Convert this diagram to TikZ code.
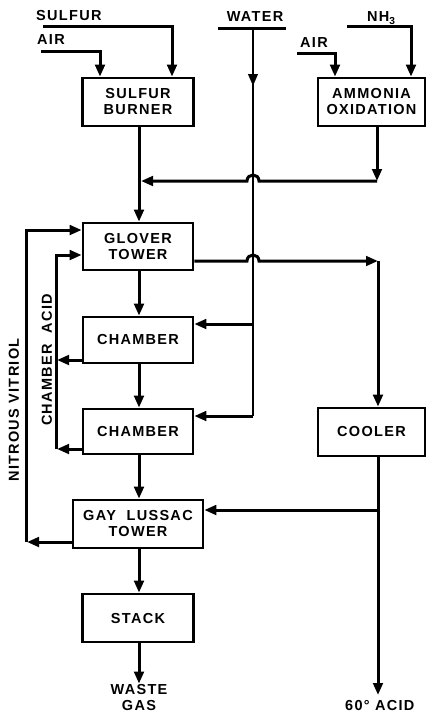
\documentclass[tikz,border=0pt]{standalone}
\usepackage{fontspec}
\setmainfont{Liberation Sans}[LetterSpace=9]
\usetikzlibrary{arrows.meta,calc}
\begin{document}
\begin{tikzpicture}[x=1pt,y=-1pt,
  txt/.style={font=\bfseries\fontsize{14.5}{16}\selectfont},
  box/.style={txt, draw, line width=2.6pt, minimum height=48pt, minimum width=111pt, align=center, inner sep=0pt},
  lbl/.style={txt, inner sep=0pt, align=center},
  flow/.style={line width=3pt},
  arr/.style={flow, -{Triangle[length=12pt,width=9.5pt]}},
]
\useasboundingbox (0,0) rectangle (427,713);

% boxes
\node[box] (burner) at (138,102) {SULFUR\\BURNER};
\node[box, minimum width=107pt] (amm) at (371.5,102) {AMMONIA\\OXIDATION};
\node[box, minimum height=47pt, minimum width=110pt] (glover) at (138,246.5) {GLOVER\\TOWER};
\node[box, minimum height=46pt, minimum width=110pt] (ch1) at (138,340) {CHAMBER};
\node[box, minimum height=45pt, minimum width=110pt] (ch2) at (138,431.5) {CHAMBER};
\node[box, minimum width=130pt] (gl) at (138,524) {GAY\ \ LUSSAC\\TOWER};
\node[box] (stack) at (138,618) {STACK};
\node[box, minimum width=107pt] (cooler) at (371.5,432) {COOLER};

% labels
\node[lbl, anchor=west] (sulfurlbl) at (36,16) {SULFUR};
\node[lbl, anchor=west] (air1) at (37,40) {AIR};
\node[lbl] (water) at (255,17) {WATER};
\node[lbl, anchor=west] (nh3) at (367,18) {NH\textsubscript{3}};
\node[lbl, anchor=west] (air2) at (300,43) {AIR};
\node[lbl] (waste) at (139,697) {WASTE\\GAS};
\node[lbl, anchor=west] (acid) at (345,705) {60° ACID};
\node[lbl, rotate=90] (calbl) at (47,360) {CHAMBER\ \ ACID};
\node[lbl, rotate=90] (nvlbl) at (14,410) {NITROUS VITRIOL};

% inputs
\coordinate (s0) at (43,26); \coordinate (s1) at (172,26);
\draw[arr] (s0) -- (s1) -- (burner.north -| s1);
\coordinate (a0) at (41,51); \coordinate (a1) at (100,51);
\draw[arr] (a0) -- (a1) -- (burner.north -| a1);
\coordinate (n0) at (347,26); \coordinate (n1) at (411,26);
\draw[arr] (n0) -- (n1) -- (amm.north -| n1);
\coordinate (b0) at (297,53); \coordinate (b1) at (335,53);
\draw[arr] (b0) -- (b1) -- (amm.north -| b1);

% water
\coordinate (wl) at (218,28); \coordinate (wr) at (286,28);
\coordinate (w0) at (253,28); \coordinate (w1) at (253,324); \coordinate (w2) at (253,416);
\draw[flow] (wl) -- (wr);
\draw[arr, line width=2.4pt] (w0) -- (253,86);
\draw[line width=2.4pt] (253,80) -- (w2);
\draw[arr] (w1) -- (ch1.east |- w1);
\draw[arr] (w2) -- (ch2.east |- w2);

% ammonia to main line
\coordinate (j1) at (377,181); \coordinate (m1) at (141,181);
\draw[arr] (amm.south -| j1) -- (j1);
\draw[arr] (j1) -- (259,181) .. controls (259,173) and (247,173) .. (247,181) -- (m1);

% main column
\coordinate (mx) at (139,0);
\draw[arr] (burner.south -| mx) -- (glover.north -| mx);
\draw[arr] (glover.south -| mx) -- (ch1.north -| mx);
\draw[arr] (ch1.south -| mx) -- (ch2.north -| mx);
\draw[arr] (ch2.south -| mx) -- (gl.north -| mx);
\draw[arr] (gl.south -| mx) -- (stack.north -| mx);
\draw[arr] (stack.south -| mx) -- (waste.north -| mx);

% glover to cooler
\coordinate (g1) at (378,261);
\draw[arr] (glover.east |- g1) -- (247,261) .. controls (247,253) and (259,253) .. (259,261) -- (g1);
\draw[arr] (g1) -- (cooler.north -| g1);

% cooler out
\coordinate (c1) at (378,510); \coordinate (acidtip) at (378,695);
\draw[arr] (cooler.south -| c1) -- (acidtip);
\draw[arr] (c1) -- (gl.east |- c1);

% chamber acid
\coordinate (ca) at (56,255); \coordinate (ca1) at (57,360); \coordinate (ca2) at (56,449);
\draw[arr] (ch1.west |- ca1) -- (ca1);
\draw[arr] (ch2.west |- ca2) -- (57,449);
\draw[arr] (ca2) -- (ca) -- (glover.west |- ca);

% nitrous vitriol
\coordinate (nv) at (26,230); \coordinate (nv1) at (26,542);
\draw[arr] (gl.west |- nv1) -- (27,542);
\draw[arr] (nv1) -- (nv) -- (glover.west |- nv);
\end{tikzpicture}
\end{document}
